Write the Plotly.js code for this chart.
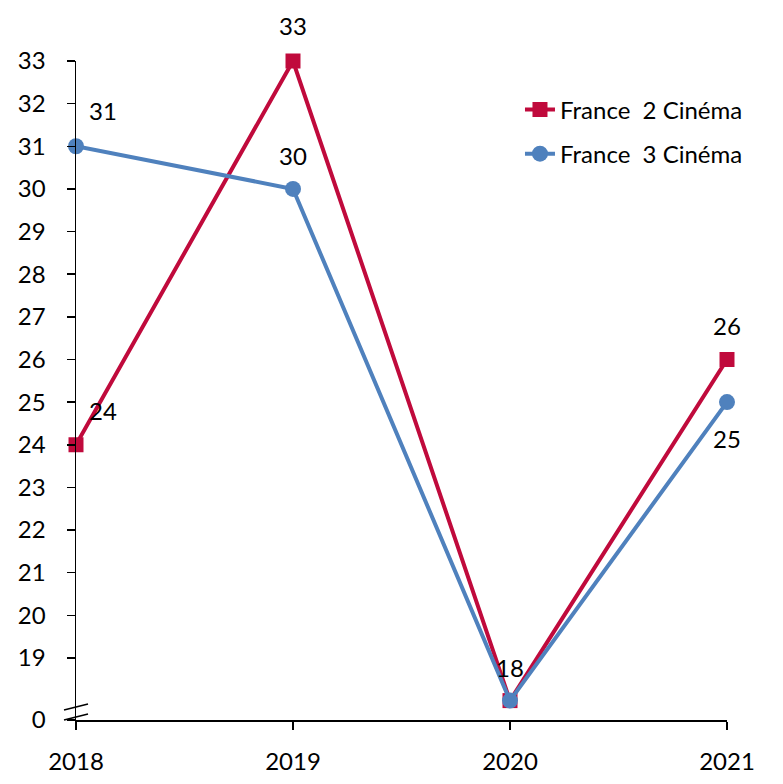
<!DOCTYPE html>
<html>
<head>
<meta charset="utf-8">
<script src="https://cdn.plot.ly/plotly-3.0.1.min.js"></script>
<style>html,body{margin:0;padding:0;background:#fff;}#chart{width:783px;height:784px;}</style>
</head>
<body>
<div id="chart"></div>
<script>
const years = [2018, 2019, 2020, 2021];
const france2 = [24, 33, 18, 26];
const france3 = [31, 30, 18, 25];
const seriesNames = ['France\u00a0 2 Cinéma', 'France\u00a0 3 Cinéma'];
const yTickVals = [17.545, 19, 20, 21, 22, 23, 24, 25, 26, 27, 28, 29, 30, 31, 32, 33];
const yTickText = ['0', '19', '20', '21', '22', '23', '24', '25', '26', '27', '28', '29', '30', '31', '32', '33'];
const f2LabelShift = [[27, 34], [0, 36], [0, 33], [0, 34]];
const f3LabelShift = [[27, 36], [0, 33], null, [0, -36]];

const FONT = 'Lato, "Open Sans", sans-serif';
const FS = 24;
const red = '#C00A3C';
const blue = '#4F81BD';

const traces = [
  {x: years, y: france2, name: seriesNames[0], legendgroup: 'a', type: 'scatter', mode: 'lines+markers', cliponaxis: false,
   line: {color: red, width: 4}, marker: {symbol: 'square', size: 15, color: red}},
  {x: years, y: france3, name: seriesNames[1], legendgroup: 'b', type: 'scatter', mode: 'lines+markers', cliponaxis: false,
   line: {color: blue, width: 4}, marker: {symbol: 'circle', size: 16, color: blue}}
];

const annotations = [];
function addLabels(vals, shifts) {
  vals.forEach((v, i) => {
    if (!shifts[i]) return;
    annotations.push({x: years[i], y: v, xref: 'x', yref: 'y', text: String(v), showarrow: false,
      xshift: shifts[i][0], yshift: shifts[i][1], font: {family: FONT, size: FS, color: '#000'}});
  });
}
addLabels(france2, f2LabelShift);
addLabels(france3, f3LabelShift);

const shapes = [
  {type: 'line', xref: 'paper', yref: 'paper', x0: (64-76)/651, x1: (88-76)/651, y0: (720-710)/659, y1: (720-704)/659, line: {color: '#000', width: 1.5}},
  {type: 'line', xref: 'paper', yref: 'paper', x0: (64-76)/651, x1: (88-76)/651, y0: (720-720)/659, y1: (720-714)/659, line: {color: '#000', width: 1.5}}
];

const layout = {
  width: 783, height: 784,
  margin: {l: 76, r: 56, t: 61, b: 64},
  paper_bgcolor: '#fff', plot_bgcolor: '#fff',
  font: {family: FONT, size: FS, color: '#000'},
  showlegend: true,
  legend: {x: 0.682, y: 0.96, xanchor: 'left', yanchor: 'top', bgcolor: 'rgba(0,0,0,0)',
    font: {family: FONT, size: FS, color: '#000'}, traceorder: 'grouped', tracegroupgap: 10},
  xaxis: {range: [2018, 2021], tickvals: years, ticktext: years.map(String),
    showgrid: false, zeroline: false, showline: true, linecolor: '#000', linewidth: 1.5,
    ticks: 'outside', ticklen: 8, tickcolor: '#000', tickwidth: 1.5, ticklabelstandoff: 12,
    tickfont: {family: FONT, size: FS, color: '#000'}},
  yaxis: {range: [17.545, 33], tickvals: yTickVals, ticktext: yTickText,
    showgrid: false, zeroline: false, showline: true, linecolor: '#000', linewidth: 1.5,
    ticks: 'outside', ticklen: 8, tickcolor: '#000', tickwidth: 1.5, ticklabelstandoff: 16,
    tickfont: {family: FONT, size: FS, color: '#000'}},
  annotations: annotations,
  shapes: shapes
};

Plotly.newPlot('chart', traces, layout, {displayModeBar: false, staticPlot: true});
</script>
</body>
</html>
